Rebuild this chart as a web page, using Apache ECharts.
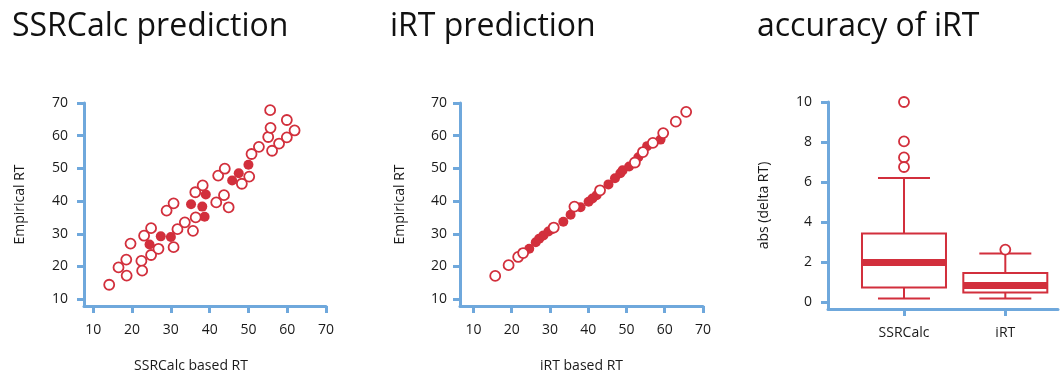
<!DOCTYPE html>
<html>
<head>
<meta charset="utf-8">
<script src="https://cdn.jsdelivr.net/npm/echarts@6/dist/echarts.min.js"></script>
<style>
  html, body { margin: 0; padding: 0; background: #fff; }
  #chart { width: 1060px; height: 378px; }
</style>
</head>
<body>
<div id="chart"></div>
<script>
// panel 1: SSRCalc predicted vs empirical RT
const ssrOpen = [
  [14.1, 14.4], [16.5, 19.7], [18.5, 22.1], [18.6, 17.2], [19.6, 27.0],
  [22.4, 21.7], [22.6, 18.7], [23.1, 29.4], [24.9, 31.7], [24.9, 23.5],
  [26.8, 25.4], [30.7, 25.9], [28.9, 37.1], [30.7, 39.3], [31.7, 31.4],
  [33.6, 33.5], [35.7, 30.9], [36.4, 35.0], [36.3, 42.7], [38.2, 44.8],
  [41.7, 39.6], [43.7, 41.8], [44.9, 38.1], [42.2, 47.8], [43.9, 49.9],
  [48.3, 45.3], [50.2, 47.5], [50.8, 54.4], [52.7, 56.6], [55.1, 59.6],
  [55.7, 62.4], [55.6, 67.8], [56.1, 55.4], [57.9, 57.6], [59.9, 59.5],
  [59.9, 64.8], [61.9, 61.6]
];
const ssrFilled = [
  [24.5, 26.7], [27.4, 29.2], [30.0, 29.0], [35.2, 39.0], [38.1, 38.3],
  [39.0, 42.0], [38.7, 35.2], [45.8, 46.3], [47.5, 48.5], [50.0, 51.1]
];

// panel 2: iRT predicted vs empirical RT
const irtOpen = [
  [15.7, 17.1], [19.2, 20.4], [21.7, 22.9], [23.0, 24.1], [31.0, 31.9],
  [36.4, 38.3], [43.1, 43.3], [52.2, 51.8], [54.3, 55.0], [56.9, 57.8],
  [59.6, 60.8], [62.9, 64.3], [65.6, 67.3]
];
const irtFilled = [
  [24.6, 25.4], [26.3, 27.4], [27.2, 28.5], [28.3, 29.5], [29.6, 30.7],
  [30.5, 31.4], [33.5, 33.7], [35.4, 35.8], [38.0, 38.1], [40.1, 39.8],
  [41.1, 40.8], [42.2, 41.8], [45.3, 45.1], [47.0, 47.0], [48.4, 48.5],
  [49.0, 49.4], [50.7, 50.6], [53.1, 53.4], [55.4, 56.8], [58.9, 58.8]
];

// panel 3: box stats [position, min, q1, median, q3, max]
const boxCategories = ['SSRCalc', 'iRT'];
const boxStats = [
  [1, 0.17, 0.73, 1.98, 3.42, 6.2],
  [2, 0.17, 0.48, 0.83, 1.45, 2.42]
];
const boxOutliers = [[1, 10.0], [1, 8.03], [1, 7.23], [1, 6.75], [2, 2.62]];

const rtTicks = [10, 20, 30, 40, 50, 60, 70];
const deltaTicks = [0, 2, 4, 6, 8, 10];

const RED = '#d22f3c';
const AXIS_BLUE = '#6fa8dc';
const FONT = "'Open Sans', 'Noto Sans', sans-serif";
const TEXT = '#1a1a1a';

const chart = echarts.init(document.getElementById('chart'));

function axisBase(extra) {
  return Object.assign({
    type: 'value',
    splitLine: { show: false },
    axisLine: { show: true, onZero: false, lineStyle: { color: AXIS_BLUE, width: 3 } },
    axisTick: { show: true, length: 7, lineStyle: { color: AXIS_BLUE, width: 3 } },
    nameLocation: 'middle',
    nameTextStyle: { color: TEXT, fontFamily: FONT, fontSize: 14 }
  }, extra);
}

function xAx(gridIndex, min, max, ticks, name, margin) {
  const a = axisBase({
    gridIndex, min, max, name, nameGap: 53
  });
  a.axisTick.customValues = ticks;
  a.axisLabel = { customValues: ticks, margin, color: TEXT, fontFamily: FONT, fontSize: 14 };
  return a;
}

function yAx(gridIndex, min, max, ticks, name, margin, nameGap) {
  const a = axisBase({
    gridIndex, min, max, name, nameGap
  });
  a.axisTick.customValues = ticks;
  a.axisLabel = { customValues: ticks, margin, color: TEXT, fontFamily: FONT, fontSize: 14 };
  return a;
}

const titleStyle = { color: '#111', fontFamily: FONT, fontSize: 32, fontWeight: 'normal' };

const xAxes = [
  xAx(0, 7.6, 70, rtTicks, 'SSRCalc based RT', 17),
  xAx(1, 6.5, 70, rtTicks, 'iRT based RT', 17),
  xAx(2, 0.25, 2.52, [1, 2], '', 17)
];
xAxes[0].nameTextStyle = Object.assign({}, xAxes[0].nameTextStyle, { padding: [0, 28, 0, 0] });
xAxes[2].axisLabel.formatter = (v) => boxCategories[Math.round(v) - 1] || '';

const option = {
  animation: false,
  title: [
    { text: 'SSRCalc prediction', left: 7, top: 6, textStyle: titleStyle },
    { text: 'iRT prediction', left: 385, top: 6, textStyle: titleStyle },
    { text: 'accuracy of iRT', left: 752, top: 6, textStyle: titleStyle }
  ],
  grid: [
    { left: 84, top: 103, width: 242, height: 206 },
    { left: 460, top: 103, width: 243, height: 206 },
    { left: 828, top: 102, width: 230, height: 207 }
  ],
  xAxis: xAxes,
  yAxis: [
    yAx(0, 7.9, 70, rtTicks, 'Empirical RT', 16, 57),
    yAx(1, 7.9, 70, rtTicks, 'Empirical RT', 13, 53),
    yAx(2, -0.35, 10, deltaTicks, 'abs (delta RT)', 16, 57)
  ],
  series: [
    {
      type: 'scatter', xAxisIndex: 0, yAxisIndex: 0, data: ssrFilled,
      symbolSize: 10, itemStyle: { color: RED, opacity: 1 }
    },
    {
      type: 'scatter', xAxisIndex: 0, yAxisIndex: 0, data: ssrOpen,
      symbolSize: 10, itemStyle: { color: '#fff', borderColor: RED, borderWidth: 1.8, opacity: 1 }
    },
    {
      type: 'scatter', xAxisIndex: 1, yAxisIndex: 1, data: irtFilled,
      symbolSize: 10, itemStyle: { color: RED, opacity: 1 }
    },
    {
      type: 'scatter', xAxisIndex: 1, yAxisIndex: 1, data: irtOpen,
      symbolSize: 10, itemStyle: { color: '#fff', borderColor: RED, borderWidth: 1.8, opacity: 1 }
    },
    {
      type: 'custom', xAxisIndex: 2, yAxisIndex: 2, data: boxStats,
      renderItem: function (params, api) {
        const x = api.value(0);
        const pMin = api.coord([x, api.value(1)]);
        const pQ1 = api.coord([x, api.value(2)]);
        const pMed = api.coord([x, api.value(3)]);
        const pQ3 = api.coord([x, api.value(4)]);
        const pMax = api.coord([x, api.value(5)]);
        const cx = pMed[0];
        const hw = 42, cap = 26;
        const ln = { stroke: RED, lineWidth: 2, fill: null };
        return {
          type: 'group',
          children: [
            { type: 'line', shape: { x1: cx, y1: pQ3[1], x2: cx, y2: pMax[1] }, style: ln },
            { type: 'line', shape: { x1: cx, y1: pQ1[1], x2: cx, y2: pMin[1] }, style: ln },
            { type: 'line', shape: { x1: cx - cap, y1: pMax[1], x2: cx + cap, y2: pMax[1] }, style: ln },
            { type: 'line', shape: { x1: cx - cap, y1: pMin[1], x2: cx + cap, y2: pMin[1] }, style: ln },
            {
              type: 'rect',
              shape: { x: cx - hw, y: pQ3[1], width: hw * 2, height: pQ1[1] - pQ3[1] },
              style: { fill: '#fff', stroke: RED, lineWidth: 2 }
            },
            {
              type: 'line',
              shape: { x1: cx - hw, y1: pMed[1], x2: cx + hw, y2: pMed[1] },
              style: { stroke: RED, lineWidth: 7 }
            }
          ]
        };
      }
    },
    {
      type: 'scatter', xAxisIndex: 2, yAxisIndex: 2, data: boxOutliers,
      symbolSize: 10, itemStyle: { color: '#fff', borderColor: RED, borderWidth: 1.8, opacity: 1 }
    }
  ]
};

chart.setOption(option);
</script>
</body>
</html>
